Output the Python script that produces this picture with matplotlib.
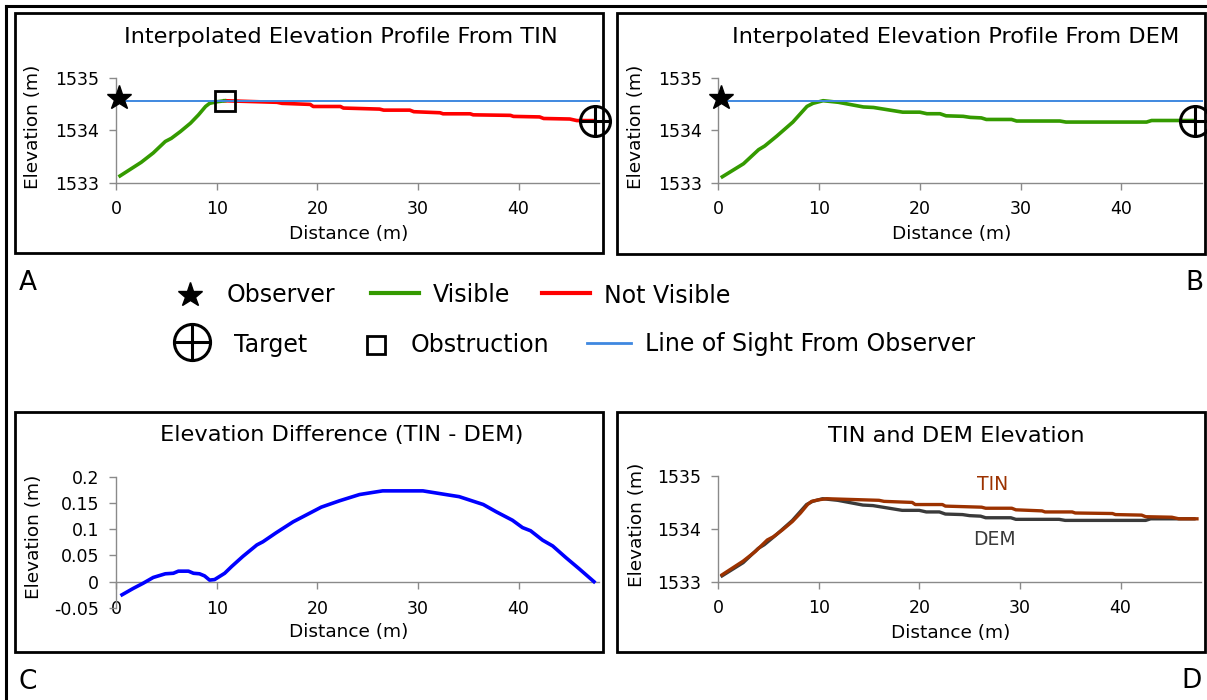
import matplotlib
matplotlib.use("Agg")
import matplotlib.pyplot as plt
from matplotlib.patches import Rectangle

W, H = 1207, 700

# ---------------- data ----------------
tin_dist = [0.4, 2.5, 3.7, 4.9, 5.5, 6.4, 7.4, 8.2, 8.9, 9.3, 10.0, 10.8,
            16.0, 16.5, 19.3, 19.6, 22.3, 22.6, 26.2, 26.6, 29.2, 29.6, 32.2,
            32.5, 35.2, 35.5, 39.2, 39.5, 42.1, 42.5, 45.1, 45.8, 47.6]
tin_elev = [1533.13, 1533.39, 1533.57, 1533.79, 1533.85, 1533.98, 1534.14,
            1534.30, 1534.46, 1534.52, 1534.55, 1534.57, 1534.54, 1534.52,
            1534.50, 1534.46, 1534.46, 1534.43, 1534.41, 1534.39, 1534.39,
            1534.36, 1534.34, 1534.32, 1534.32, 1534.30, 1534.29, 1534.27,
            1534.26, 1534.23, 1534.22, 1534.19, 1534.19]

dem_dist = [0.4, 2.5, 4.0, 4.6, 5.8, 7.4, 8.8, 9.4, 10.4, 11.9, 14.4, 15.4,
            18.3, 20.0, 20.7, 22.0, 22.6, 24.3, 25.0, 26.1, 26.6, 29.1, 29.6,
            33.9, 34.5, 42.5, 43.0, 47.3]
dem_elev = [1533.11, 1533.36, 1533.63, 1533.70, 1533.89, 1534.16, 1534.46,
            1534.52, 1534.57, 1534.54, 1534.45, 1534.44, 1534.35, 1534.35,
            1534.32, 1534.32, 1534.28, 1534.27, 1534.25, 1534.24, 1534.21,
            1534.21, 1534.18, 1534.18, 1534.16, 1534.16, 1534.19, 1534.19]

diff_dist = [0.6, 1.7, 2.7, 3.7, 4.9, 5.7, 6.2, 7.2, 7.7, 8.3, 8.8, 9.3, 9.8,
             10.8, 11.5, 12.6, 14.0, 14.6, 15.9, 17.6, 18.6, 20.4, 22.2, 24.2,
             25.5, 26.5, 30.5, 33.1, 34.1, 36.5, 37.8, 39.4, 40.4, 41.2, 42.4,
             43.4, 44.7, 46.0, 47.5]
diff_val = [-0.025, -0.013, -0.003, 0.008, 0.015, 0.016, 0.020, 0.020, 0.016,
            0.015, 0.011, 0.003, 0.004, 0.016, 0.029, 0.048, 0.070, 0.076,
            0.093, 0.114, 0.124, 0.142, 0.154, 0.166, 0.170, 0.173, 0.173,
            0.165, 0.162, 0.147, 0.133, 0.117, 0.103, 0.097, 0.079, 0.068,
            0.046, 0.025, 0.0]

observer_elev = 1534.62
observer_dist = 0.3
sight_elev = 1534.57
obstruction_dist = 10.8

elev_ticks = [1533, 1534, 1535]
diff_ticks = [-0.05, 0, 0.05, 0.1, 0.15, 0.2]
diff_tick_labels = ["-0.05", "0", "0.05", "0.1", "0.15", "0.2"]
dist_ticks = [0, 10, 20, 30, 40]

titles = ["Interpolated Elevation Profile From TIN",
          "Interpolated Elevation Profile From DEM",
          "Elevation Difference (TIN - DEM)",
          "TIN and DEM Elevation"]
legend_labels = ["Observer", "Visible", "Not Visible",
                 "Target", "Obstruction", "Line of Sight From Observer"]
panel_letters = ["A", "B", "C", "D"]

GREEN = "#349a00"
RED = "#ff0000"
LOS = "#3f88e0"
BLUE = "#0000ff"
BROWN = "#9c3200"
DEMC = "#3a3a3a"
GREY = "#8a8a8a"

plt.rcParams["font.family"] = ["DejaVu Sans"]

fig = plt.figure(figsize=(W / 100, H / 100), dpi=100)


def fx(x):
    return x / W


def fy(y):
    return 1 - y / H


def add_ax(left, top, right, bottom):
    return fig.add_axes([fx(left), fy(bottom), (right - left) / W, (bottom - top) / H])


def style(ax, xpad=7.7):
    for s in ["top", "right"]:
        ax.spines[s].set_visible(False)
    for s in ["left", "bottom"]:
        ax.spines[s].set_color(GREY)
        ax.spines[s].set_linewidth(1.0)
    ax.tick_params(colors=GREY, labelcolor="black", length=4.8, width=1.0,
                   direction="out", labelsize=12.5)
    ax.tick_params(axis="y", pad=7.2)
    ax.tick_params(axis="x", pad=xpad)
    ax.patch.set_visible(False)
    ax.set_xlim(0, 48)
    ax.set_xticks(dist_ticks)


def target(ax, x, y, ms=21.6):
    ax.plot([x], [y], marker="o", ms=ms, mfc="none", mec="black", mew=2.2,
            clip_on=False, zorder=10)
    ax.plot([x], [y], marker="+", ms=ms, mec="black", mew=2.2,
            clip_on=False, zorder=10)


# ---------------- Panel A ----------------
axA = add_ax(116, 78.3, 599, 182.7)
style(axA)
axA.set_ylim(1533, 1535)
axA.set_yticks(elev_ticks)
vis_x = [d for d in tin_dist if d <= obstruction_dist]
vis_y = tin_elev[:len(vis_x)]
hid_x = tin_dist[len(vis_x) - 1:]
hid_y = tin_elev[len(vis_x) - 1:]
axA.plot(hid_x, hid_y, color=RED, lw=2.6, solid_joinstyle="round", zorder=3)
axA.plot(vis_x, vis_y, color=GREEN, lw=2.6, solid_joinstyle="round", zorder=3)
axA.plot([0, 48], [sight_elev, sight_elev], color=LOS, lw=1.4, zorder=4, clip_on=False)
axA.plot([observer_dist], [observer_elev], marker="*", ms=18.5, color="black",
         clip_on=False, zorder=10)
axA.plot([obstruction_dist], [sight_elev], marker="s", ms=14.4, mfc="none",
         mec="black", mew=2.0, clip_on=False, zorder=10)
target(axA, tin_dist[-1], tin_elev[-1])

# ---------------- Panel B ----------------
axB = add_ax(718.3, 78.3, 1202, 182.5)
style(axB)
axB.set_ylim(1533, 1535)
axB.set_yticks(elev_ticks)
axB.plot(dem_dist, dem_elev, color=GREEN, lw=2.6, solid_joinstyle="round", zorder=3)
axB.plot([0, 48], [sight_elev, sight_elev], color=LOS, lw=1.4, zorder=4, clip_on=False)
axB.plot([observer_dist], [observer_elev], marker="*", ms=18.5, color="black",
         clip_on=False, zorder=10)
target(axB, dem_dist[-1], dem_elev[-1])

# ---------------- Panel C ----------------
axC = add_ax(116, 476.7, 599, 607.9)
style(axC, xpad=8.4)
axC.set_ylim(-0.05, 0.2)
axC.set_yticks(diff_ticks)
axC.set_yticklabels(diff_tick_labels)
axC.spines["bottom"].set_position(("data", 0))
axC.plot(diff_dist, diff_val, color=BLUE, lw=2.6, solid_joinstyle="round", zorder=3)

# ---------------- Panel D ----------------
axD = add_ax(718, 476, 1201, 581.7)
style(axD)
axD.set_ylim(1533, 1535)
axD.set_yticks(elev_ticks)
axD.plot(dem_dist, dem_elev, color=DEMC, lw=2.4, solid_joinstyle="round", zorder=3)
axD.plot(tin_dist, tin_elev, color=BROWN, lw=2.4, solid_joinstyle="round", zorder=4)
axD.text(27.3, 1534.84, "TIN", color=BROWN, fontsize=13.5, ha="center", va="center")
axD.text(27.5, 1533.79, "DEM", color=DEMC, fontsize=13.5, ha="center", va="center")

# ---------------- titles and axis labels ----------------
for t, (cx, cy) in zip(titles, [(341, 37), (956, 37), (342, 435.5), (956, 435.5)]):
    fig.text(fx(cx), fy(cy), t, fontsize=16.2, ha="center", va="center")
for (cx, cy) in [(349, 234), (952, 234), (349, 632), (951, 633)]:
    fig.text(fx(cx), fy(cy), "Distance (m)", fontsize=13.3, ha="center", va="center")
for (cx, cy) in [(33, 127), (636, 127), (34, 537), (637, 525)]:
    fig.text(fx(cx), fy(cy), "Elevation (m)", fontsize=13.3, ha="center",
             va="center", rotation=90)

# ---------------- overlay: frames, legend, letters ----------------
lg = fig.add_axes([0, 0, 1, 1], zorder=-1)
lg.set_xlim(0, W)
lg.set_ylim(H, 0)
lg.axis("off")

lg.plot([5.5, 5.5], [H, 5.5], color="black", lw=2.2, solid_capstyle="projecting")
lg.plot([5.5, W], [5.5, 5.5], color="black", lw=2.2, solid_capstyle="projecting")
for (l, t, r, b) in [(14.8, 13.3, 603, 253), (617.4, 13.3, 1204.5, 254),
                     (14.8, 411.7, 603, 651.7), (617.4, 411.7, 1204.5, 652)]:
    lg.add_patch(Rectangle((l, t), r - l, b - t, fill=False, ec="black", lw=2.0))

for letter, (cx, cy) in zip(panel_letters, [(28, 282.5), (1194, 283), (28, 682), (1192, 681.5)]):
    lg.text(cx, cy, letter, fontsize=19, ha="center", va="center")

lg2 = fig.add_axes([0, 0, 1, 1], zorder=5)
lg2.set_xlim(0, W)
lg2.set_ylim(H, 0)
lg2.axis("off")
LS = 17
lg2.plot([190], [295], marker="*", ms=18.5, color="black")
lg2.text(227, 295, legend_labels[0], fontsize=LS, ha="left", va="center")
lg2.plot([371, 419], [293, 293], color=GREEN, lw=3)
lg2.text(433, 295, legend_labels[1], fontsize=LS, ha="left", va="center")
lg2.plot([542, 590], [293, 293], color=RED, lw=3)
lg2.text(604, 296, legend_labels[2], fontsize=LS, ha="left", va="center")
lg2.plot([192], [342], marker="o", ms=26, mfc="none", mec="black", mew=2.2)
lg2.plot([192], [342], marker="+", ms=26, mec="black", mew=2.2)
lg2.text(234, 345, legend_labels[3], fontsize=LS, ha="left", va="center")
lg2.plot([376], [345], marker="s", ms=13, mfc="none", mec="black", mew=2.0)
lg2.text(411, 345, legend_labels[4], fontsize=LS, ha="left", va="center")
lg2.plot([587, 631], [343, 343], color=LOS, lw=2)
lg2.text(645, 344, legend_labels[5], fontsize=LS, ha="left", va="center")

fig.savefig("out.png", dpi=100)
